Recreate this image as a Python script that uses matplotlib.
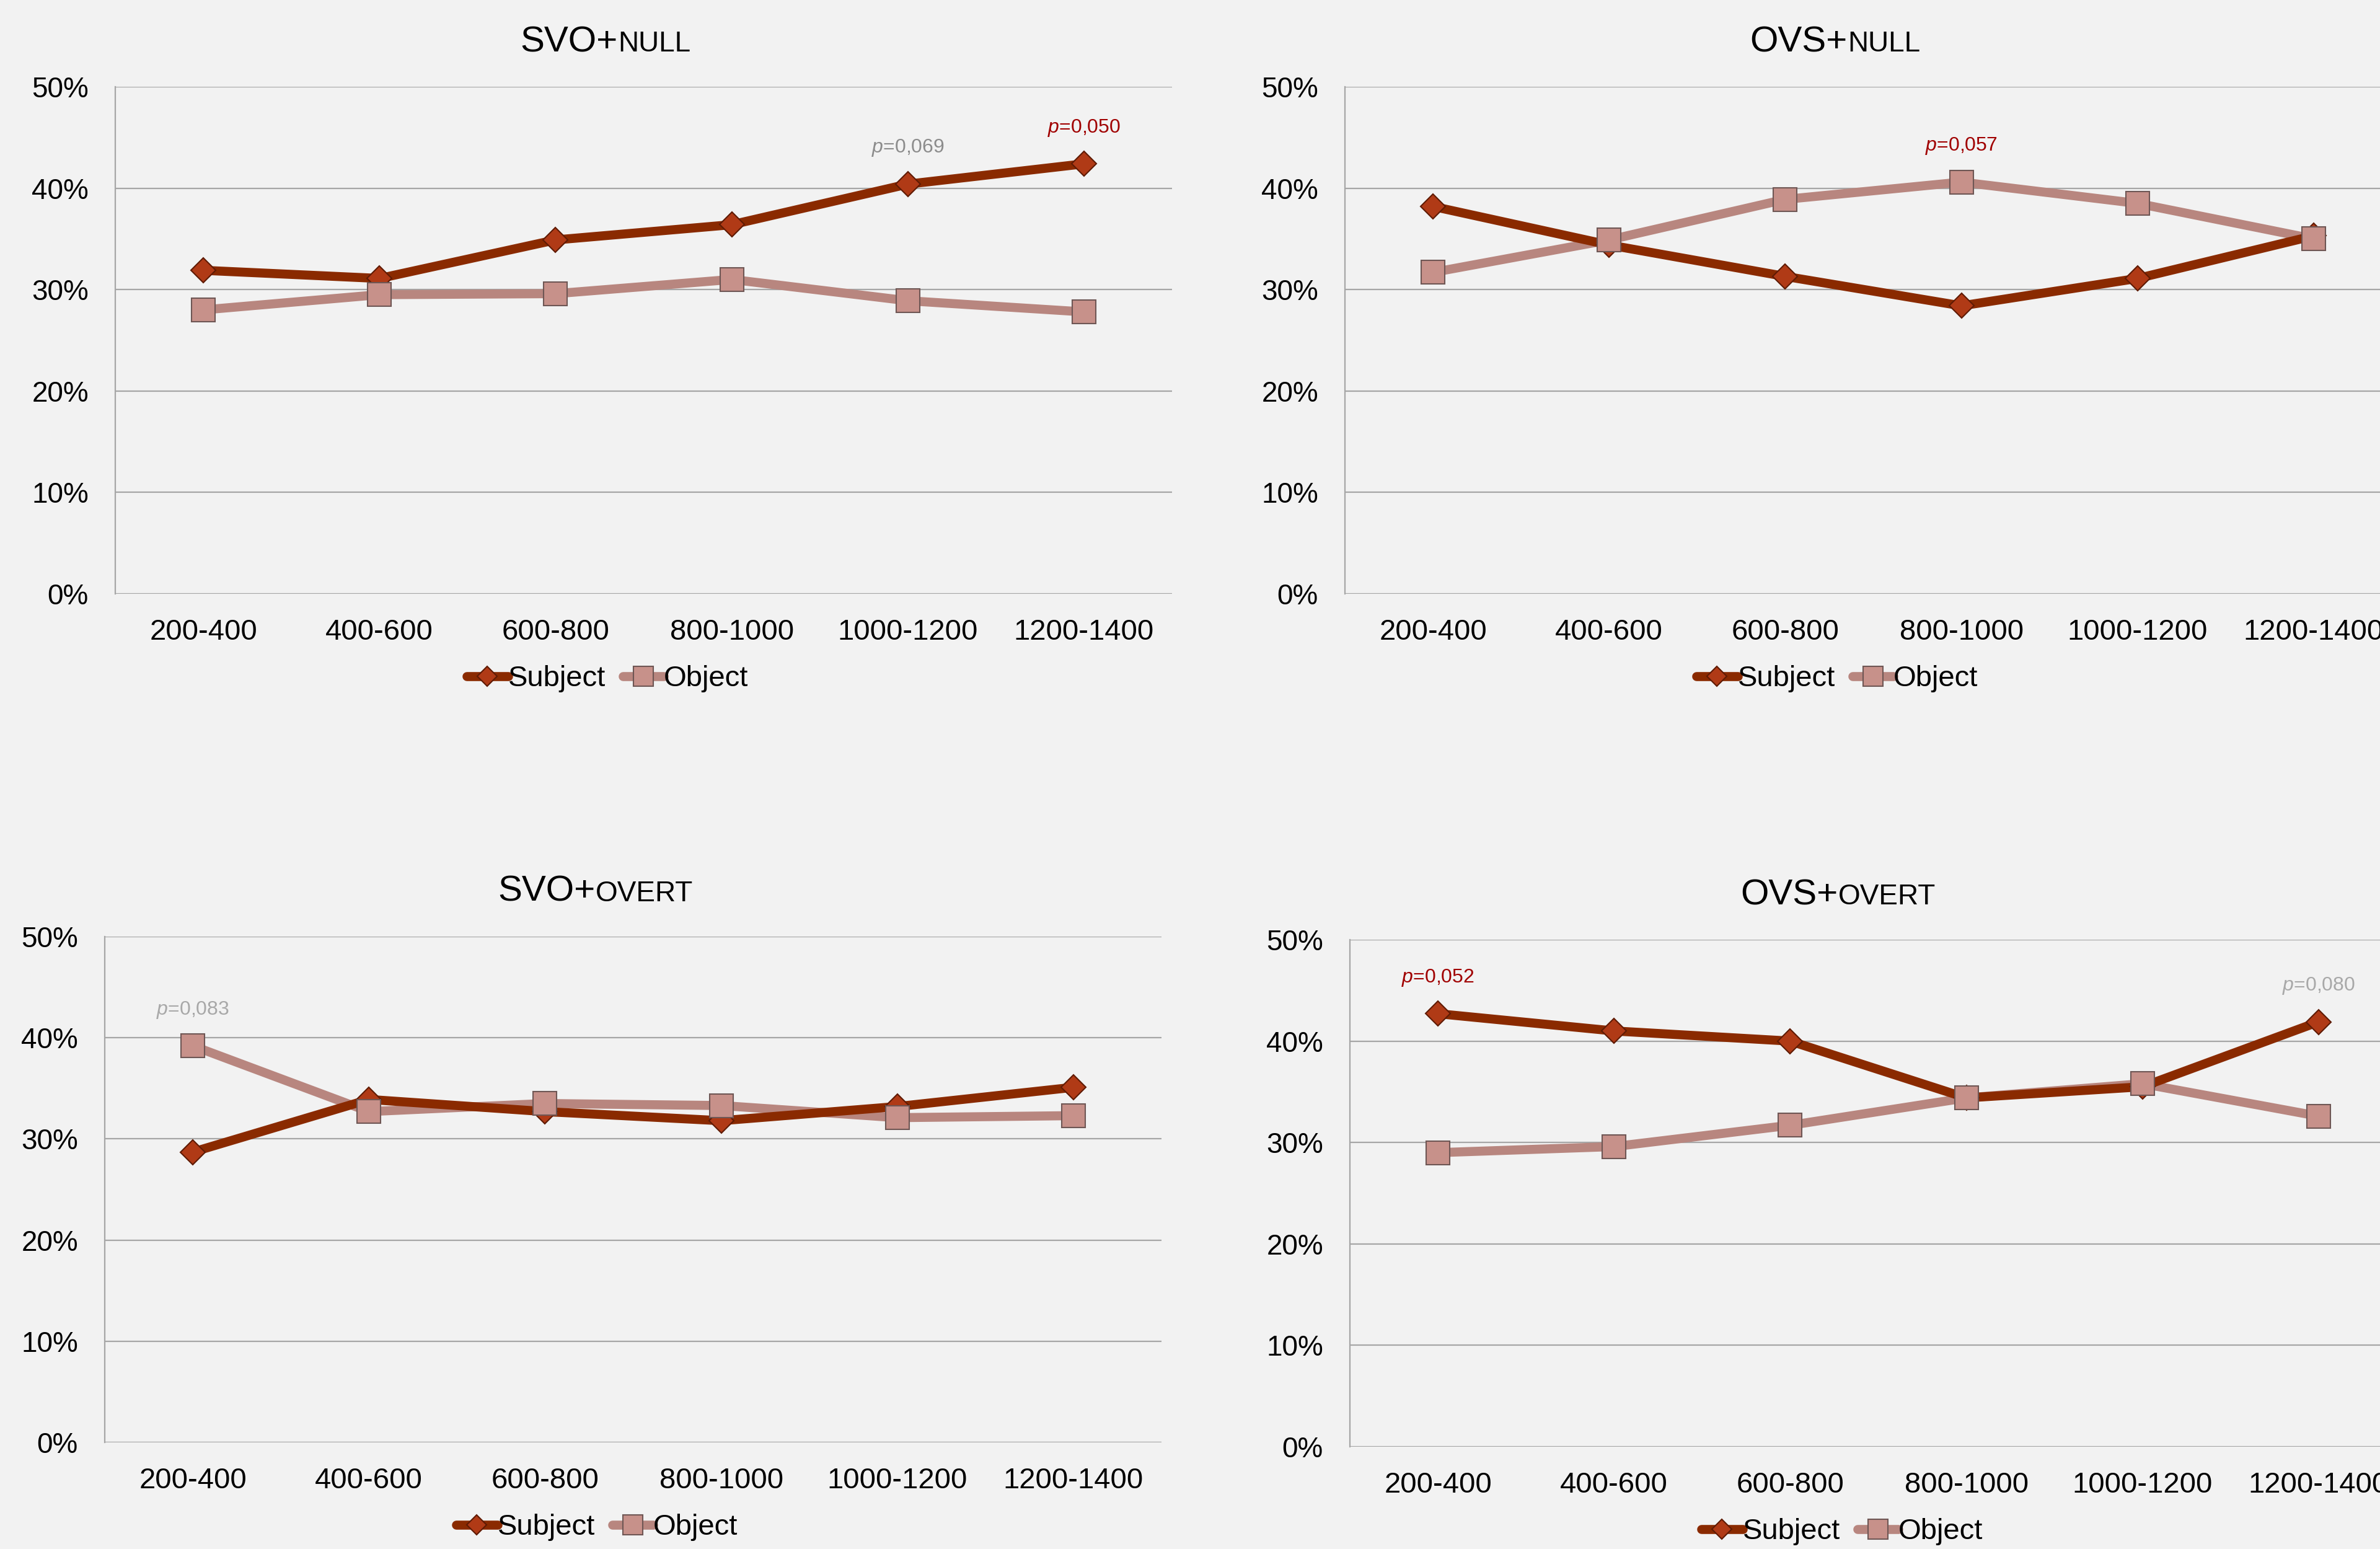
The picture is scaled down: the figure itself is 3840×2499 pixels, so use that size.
import matplotlib
matplotlib.use("Agg")
import matplotlib.pyplot as plt
from matplotlib.lines import Line2D

plt.rcParams['font.family'] = ['Liberation Sans', 'DejaVu Sans']
plt.rcParams['mathtext.fontset'] = 'custom'
plt.rcParams['mathtext.rm'] = 'Liberation Sans'
plt.rcParams['mathtext.it'] = 'Liberation Sans:italic'

# ---------------- data ----------------
categories = ["200-400", "400-600", "600-800", "800-1000", "1000-1200", "1200-1400"]
yticks = [0, 10, 20, 30, 40, 50]
ytick_labels = ["0%", "10%", "20%", "30%", "40%", "50%"]

svo_null_subject = [31.9, 31.1, 34.9, 36.4, 40.4, 42.4]
svo_null_object = [28.0, 29.5, 29.6, 31.0, 28.9, 27.8]

ovs_null_subject = [38.2, 34.4, 31.3, 28.4, 31.1, 35.3]
ovs_null_object = [31.7, 34.9, 38.9, 40.6, 38.5, 35.0]

svo_overt_subject = [28.7, 33.9, 32.7, 31.8, 33.2, 35.1]
svo_overt_object = [39.2, 32.7, 33.5, 33.3, 32.1, 32.3]

ovs_overt_subject = [42.7, 41.0, 40.0, 34.4, 35.5, 41.9]
ovs_overt_object = [29.0, 29.6, 31.7, 34.4, 35.8, 32.6]

titles_main = ["SVO+", "OVS+", "SVO+", "OVS+"]
titles_small = ["NULL", "NULL", "OVERT", "OVERT"]

# p-value notes: (category index, label text, significance)
notes_svo_null = [(4, "0,069", "trend"), (5, "0,050", "sig")]
notes_ovs_null = [(3, "0,057", "sig")]
notes_svo_overt = [(0, "0,083", "trend_light")]
notes_ovs_overt = [(0, "0,052", "sig"), (5, "0,080", "trend_light")]

# ---------------- style ----------------
BG = "#F2F2F2"
GRID = "#A6A6A6"
SUBJ_LINE = "#8A2A00"
SUBJ_FACE = "#B03A16"
SUBJ_EDGE = "#5E1A04"
OBJ_LINE = "#B8867F"
OBJ_FACE = "#C7918A"
OBJ_EDGE = "#6E5654"
note_colors = {"sig": "#A00000", "trend": "#8C8C8C", "trend_light": "#A8A8A8"}
LW = 10.5

W, H = 3841, 2499
fig = plt.figure(figsize=(W / 100, H / 100), dpi=100, facecolor=BG)

# axes rectangles in pixel units (left, top, right, bottom)
rects = [
    (186, 140, 1891, 958),
    (2170, 140, 3875, 958),
    (169, 1511, 1874, 2327),
    (2178, 1516, 3883, 2334),
]
title_pos = [(997, 83), (2981, 83), (961, 1454), (2966, 1459)]

panels = [
    (svo_null_subject, svo_null_object, notes_svo_null),
    (ovs_null_subject, ovs_null_object, notes_ovs_null),
    (svo_overt_subject, svo_overt_object, notes_svo_overt),
    (ovs_overt_subject, ovs_overt_object, notes_ovs_overt),
]

x = list(range(len(categories)))

for i, ((subj, obj, notes), (l, t, r, b)) in enumerate(zip(panels, rects)):
    ax = fig.add_axes([l / W, 1 - b / H, (r - l) / W, (b - t) / H])
    ax.set_facecolor(BG)
    ax.set_xlim(-0.5, len(categories) - 0.5)
    ax.set_ylim(0, 50)
    ax.set_yticks(yticks)
    ax.set_yticklabels(ytick_labels)
    ax.set_xticks(x)
    ax.set_xticklabels(categories)
    ax.tick_params(axis='y', length=0, pad=31, labelsize=33)
    ax.tick_params(axis='x', length=0, pad=29, labelsize=34)
    for s in ["top", "right", "bottom"]:
        ax.spines[s].set_visible(False)
    ax.spines["left"].set_color(GRID)
    ax.spines["left"].set_linewidth(1.6)
    ax.grid(axis='y', color=GRID, linewidth=1.6)
    ax.set_axisbelow(True)

    # lines first, then markers (object markers on top, as in the reference)
    ax.plot(x, obj, color=OBJ_LINE, lw=LW, solid_capstyle='round',
            solid_joinstyle='round', zorder=3)
    ax.plot(x, subj, color=SUBJ_LINE, lw=LW, solid_capstyle='round',
            solid_joinstyle='round', zorder=4)
    ax.plot(x, subj, ls='none', marker='D', ms=20, mfc=SUBJ_FACE,
            mec=SUBJ_EDGE, mew=1.5, zorder=5)
    ax.plot(x, obj, ls='none', marker='s', ms=28, mfc=OBJ_FACE,
            mec=OBJ_EDGE, mew=1.5, zorder=6)

    for idx, txt, kind in notes:
        yv = max(subj[idx], obj[idx])
        ax.annotate(r"$\it{p}$=" + txt, xy=(idx, yv), xytext=(0, 30),
                    textcoords='offset points', ha='center', va='bottom',
                    fontsize=23, color=note_colors[kind], zorder=7)

    handles = [
        Line2D([], [], color=SUBJ_LINE, lw=LW, marker='D', ms=20, mfc=SUBJ_FACE,
               mec=SUBJ_EDGE, mew=1.5, solid_capstyle='round'),
        Line2D([], [], color=OBJ_LINE, lw=LW, marker='s', ms=28, mfc=OBJ_FACE,
               mec=OBJ_EDGE, mew=1.5, solid_capstyle='round'),
    ]
    ax.legend(handles, ["Subject", "Object"], loc='center',
              bbox_to_anchor=(0.466, -0.168), ncol=2, frameon=False, fontsize=34,
              handlelength=1.4, handletextpad=0.0, columnspacing=0.6,
              markerscale=0.8)

    tx, ty = title_pos[i]
    fig.text(tx / W, 1 - ty / H, titles_main[i], ha='right', va='baseline',
             fontsize=42, color='black')
    fig.text(tx / W, 1 - ty / H, titles_small[i], ha='left', va='baseline',
             fontsize=33, color='black')

fig.savefig("out.png", dpi=100, facecolor=BG)
